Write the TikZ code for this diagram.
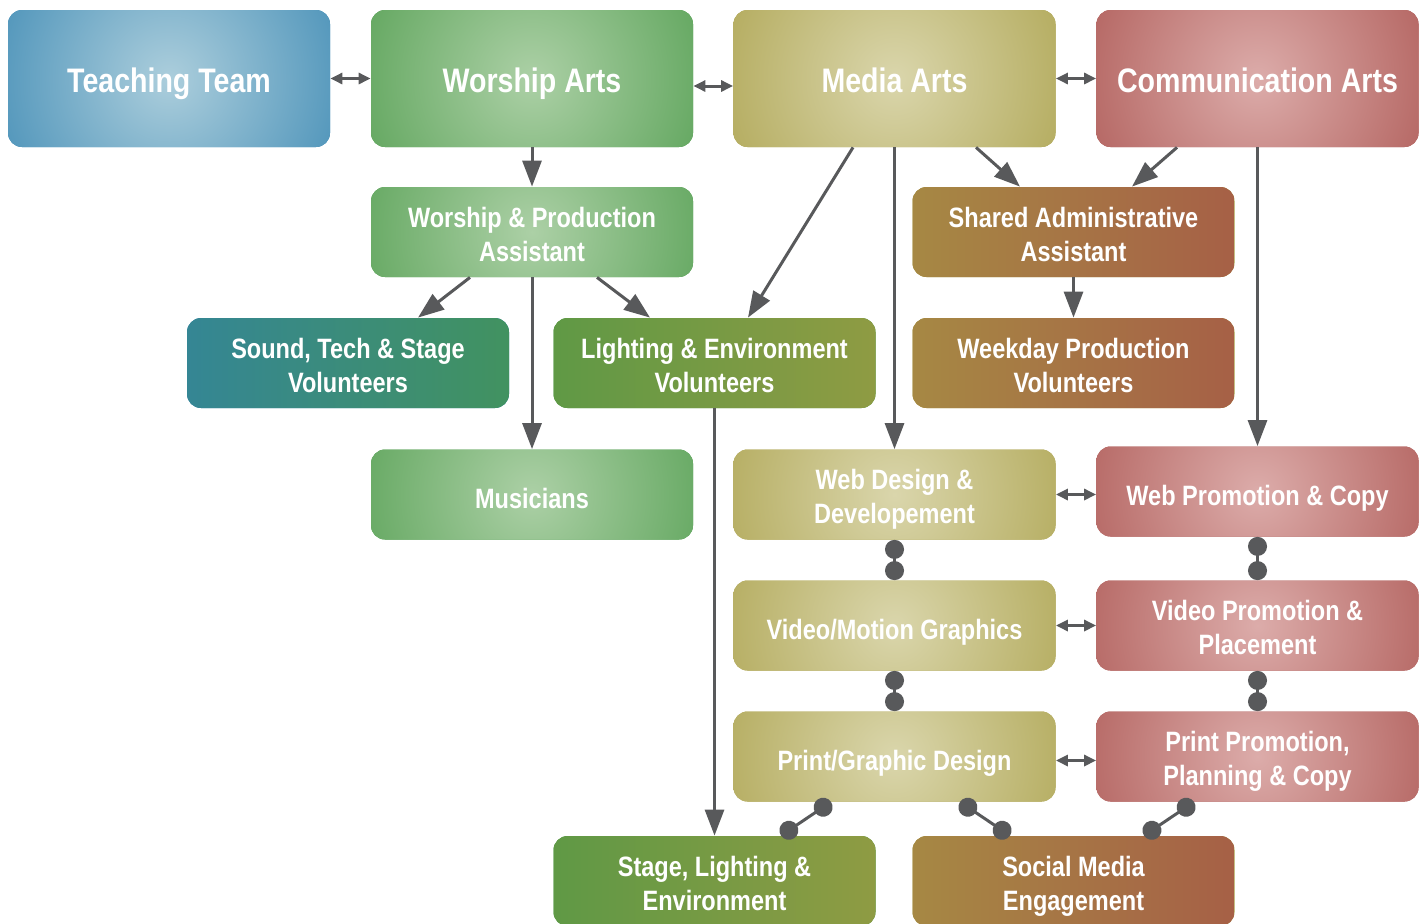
\documentclass[tikz,border=0pt]{standalone}
\usepackage{fontspec}
\setmainfont{Liberation Sans}[FakeStretch=0.84]
\usepackage{tikz}
\usetikzlibrary{shapes,arrows.meta}
\usetikzlibrary{fit,backgrounds,positioning}
\definecolor{blueD}{RGB}{46,128,174}
\definecolor{blueL}{RGB}{172,206,220}
\definecolor{greenD}{RGB}{72,152,70}
\definecolor{greenL}{RGB}{172,208,166}
\definecolor{oliveD}{RGB}{166,156,66}
\definecolor{oliveL}{RGB}{218,214,172}
\definecolor{redD}{RGB}{166,76,72}
\definecolor{redL}{RGB}{220,172,170}
\definecolor{linkgray}{RGB}{88,89,91}
\newcommand{\boxlift}{\rule{0pt}{16.2pt}}
\tikzstyle{block} = [rectangle, rounded corners=7pt, text=white, align=center,
minimum width=161pt, minimum height=45pt, inner sep=0pt, font=\fontsize{14}{17}\selectfont\bfseries,
execute at begin node={\rule{0pt}{17.5pt}}, execute at end node={\rule[-4pt]{0pt}{4pt}}]
\tikzstyle{twoline} = [block, execute at begin node={}, execute at end node={\rule[-3pt]{0pt}{3pt}}]
\tikzstyle{head} = [block, minimum height=68.5pt, font=\fontsize{17}{20}\selectfont\bfseries,
execute at begin node={\rule{0pt}{18pt}}]
\tikzstyle{line} = [draw, linkgray, line width=1.5pt, -{Triangle[width=9.5pt,length=13pt]}]
\tikzstyle{both} = [draw, linkgray, line width=1.5pt, {Triangle[width=5.5pt,length=6pt]}-{Triangle[width=5.5pt,length=6pt]}]
\tikzstyle{link} = [draw, linkgray, line width=1.5pt, {Circle[length=9.5pt]}-{Circle[length=9.5pt]}]
\tikzset{
glow/.style 2 args={fill=#2, path picture={\shade[inner color=#1, outer color=#2] (path picture bounding box.center) circle (125pt);}},
blend/.style 2 args={fill=#1, path picture={\shade[left color=#1, right color=#2] ([xshift=-80.5pt,yshift=-40pt]path picture bounding box.south west) rectangle ([xshift=80.5pt,yshift=40pt]path picture bounding box.north east);}}
}
\begin{document}
\begin{tikzpicture}[x=0.5pt, y=-0.5pt, node distance=65.5pt]
\useasboundingbox (0,0) rectangle (1427,923);
% Place nodes
\node [head, glow={blueL}{blueD}] (i1) at (169,78.5) {Teaching Team};
\node [head, glow={greenL}{greenD}, right of=i1, node distance=181.5pt] (i2) {Worship Arts};
\node [head, glow={oliveL}{oliveD}, right of=i2, node distance=181.25pt] (i3) {Media Arts};
\node [head, glow={redL}{redD}, right of=i3, node distance=181.5pt] (i4) {Communication Arts};
\node [twoline, glow={greenL}{greenD}, below of=i2, node distance=76.75pt] (i5) {\boxlift Worship \& Production\\Assistant};
\node [twoline, blend={oliveD}{redD}] (i6) at (1073.5,232) {\boxlift Shared Administrative\\Assistant};
\node [twoline, blend={blueD}{greenD}] (i7) at (348,363) {\boxlift Sound, Tech \& Stage\\Volunteers};
\node [twoline, blend={greenD}{oliveD}] (i8) at (714.5,363) {\boxlift Lighting \& Environment\\Volunteers};
\node [twoline, blend={oliveD}{redD}, below of=i6] (i9) {\boxlift Weekday Production\\Volunteers};
\node [block, glow={greenL}{greenD}, below of=i5, node distance=131.25pt] (i10) {Musicians};
\node [twoline, glow={oliveL}{oliveD}] (i11) at (894.5,494.5) {\boxlift Web Design \&\\Developement};
\node [block, glow={redL}{redD}] (i12) at (1257.5,491.5) {Web Promotion \& Copy};
\node [block, glow={oliveL}{oliveD}, below of=i11] (i13) {Video/Motion Graphics};
\node [twoline, glow={redL}{redD}, right of=i13, node distance=181.5pt] (i14) {\boxlift Video Promotion \&\\Placement};
\node [block, glow={oliveL}{oliveD}, below of=i13] (i15) {Print/Graphic Design};
\node [twoline, glow={redL}{redD}, right of=i15, node distance=181.5pt] (i16) {\boxlift Print Promotion,\\Planning \& Copy};
\node [twoline, blend={greenD}{oliveD}] (i17) at (714.5,881) {\boxlift Stage, Lighting \&\\Environment};
\node [twoline, blend={oliveD}{redD}] (i18) at (1073.5,881) {\boxlift Social Media\\Engagement};

% Draw edges
\path [both] (i1) -- (i2);
\path [both] ([yshift=-3.75pt]i2.east) -- ([yshift=-3.75pt]i3.west);
\path [both] (i3) -- (i4);
\path [line] (i2) -- (i5);
\path [line] ([xshift=-31pt]i5.south) -- ([xshift=35pt]i7.north);
\path [line] ([xshift=32.5pt]i5.south) -- ([xshift=-32.25pt]i8.north);
\path [line] (i5) -- (i10);
\path [line] ([xshift=-20.75pt]i3.south) -- ([xshift=16.75pt]i8.north);
\path [line] (i3) -- (i11);
\path [line] ([xshift=40.75pt]i3.south) -- ([xshift=-26.75pt]i6.north);
\path [line] ([xshift=-40.25pt]i4.south) -- ([xshift=29.25pt]i6.north);
\path [line] (i4) -- (i12);
\path [line] (i6) -- (i9);
\path [line] (i8) -- (i17);
\path [both] (i11.east) -- (i11.east -| i12.west);
\path [both] (i13) -- (i14);
\path [both] ([yshift=-2pt]i15.east) -- ([yshift=-2pt]i16.west);
\path [link] (i11) -- (i13);
\path [link] (i13) -- (i15);
\path [link] (i12) -- (i14);
\path [link] (i14) -- (i16);
\path [link] ([xshift=-31.75pt]i15.south) -- ([xshift=33.25pt]i17.north);
\path [link] ([xshift=32.75pt]i15.south) -- ([xshift=-31.75pt]i18.north);
\path [link] ([xshift=-31.75pt]i16.south) -- ([xshift=35.25pt]i18.north);
\end{tikzpicture}
\end{document}
